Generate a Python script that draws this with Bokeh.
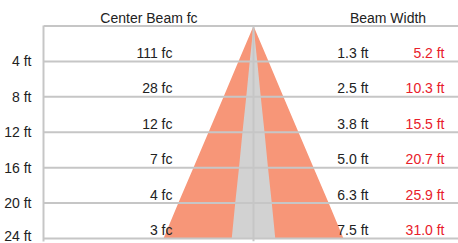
from bokeh.plotting import figure
from bokeh.models import Range1d, FixedTicker, Span, ColumnDataSource
from bokeh.core.properties import value
from bokeh.embed import file_html
from bokeh.resources import INLINE

# data
depths = [4, 8, 12, 16, 20, 24]
tick_labels = ["4 ft", "8 ft", "12 ft", "16 ft", "20 ft", "24 ft"]
center_fc = ["111 fc", "28 fc", "12 fc", "7 fc", "4 fc", "3 fc"]
beam_width = [1.3, 2.5, 3.8, 5.0, 6.3, 7.5]
field_width = [5.2, 10.3, 15.5, 20.7, 25.9, 31.0]
headers = ["Center Beam fc", "Beam Width"]

FONT = value("Liberation Sans")
GRID = "#c6c6c6"
ORANGE = "#f79678"
GRAY = "#d2d2d2"
RED = "#e8202a"
INK = "#222222"

p = figure(width=458, height=243, output_backend="svg", toolbar_location=None,
           x_range=Range1d(-36.17, 35.31), y_range=Range1d(24.34, -2.88),
           x_axis_location=None, min_border_left=43, min_border_right=0,
           min_border_top=0, min_border_bottom=2)
p.outline_line_color = None
p.xgrid.visible = False
p.ygrid.visible = False

# beam shapes
ys = [0] + depths + depths[::-1]
xs_field = [0] + [-w / 2 for w in field_width] + [w / 2 for w in field_width[::-1]]
xs_beam = [0] + [-w / 2 for w in beam_width] + [w / 2 for w in beam_width[::-1]]
p.patch(xs_field, ys, fill_color=ORANGE, line_color=None)
p.patch(xs_beam, ys, fill_color=GRAY, line_color=None)

# gridlines on top
for d in [0] + depths:
    p.add_layout(Span(location=d, dimension="width", line_color=GRID, line_width=2))
p.segment(x0=[0], y0=[0], x1=[0], y1=[24.34], line_color=GRID, line_width=2)

# y axis
ax = p.yaxis[0]
ax.ticker = FixedTicker(ticks=depths)
ax.major_label_overrides = {d: t for d, t in zip(depths, tick_labels)}
ax.bounds = (0, 24.34)
ax.axis_line_color = GRID
ax.axis_line_width = 2
ax.major_tick_line_color = None
ax.minor_tick_line_color = None
ax.major_label_standoff = 6
ax.major_label_text_font = "Liberation Sans"
ax.major_label_text_font_size = "14px"
ax.major_label_text_color = INK

# texts
row_y = [d - 0.96 for d in depths]
src = ColumnDataSource(dict(
    y=row_y,
    fc=center_fc,
    bw=[f"{v:.1f} ft" for v in beam_width],
    fw=[f"{v:.1f} ft" for v in field_width],
    xfc=[-13.95] * 6, xbw=[19.8] * 6, xfw=[32.9] * 6,
))
common = dict(text_font=FONT, text_font_size="14px", text_align="right",
              text_baseline="middle", source=src)
p.text(x="xfc", y="y", text="fc", text_color=INK, **common)
p.text(x="xbw", y="y", text="bw", text_color=INK, **common)
p.text(x="xfw", y="y", text="fw", text_color=RED, **common)

p.text(x=[-18.0, 23.17], y=[-0.93, -0.93], text=headers, text_font=FONT,
       text_font_size="14px", text_align="center", text_baseline="middle",
       text_color=INK)

open("out.html", "w").write(file_html(p, INLINE))
